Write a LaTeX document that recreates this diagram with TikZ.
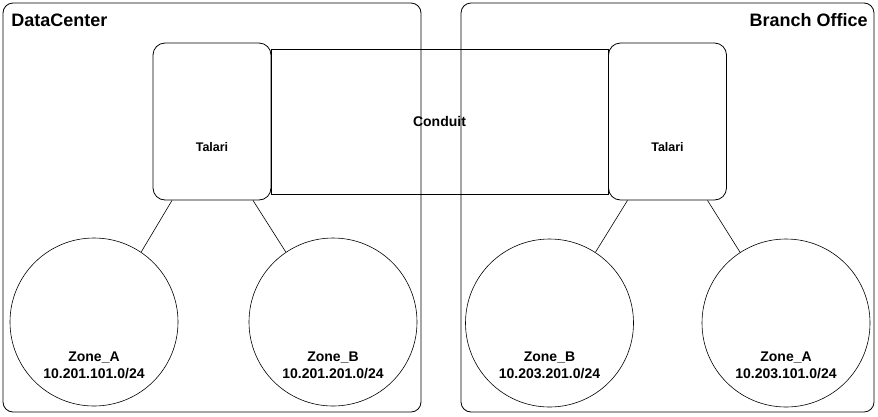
\documentclass[tikz,border=0pt]{standalone}
\usepackage{fontspec}
\setmainfont{Liberation Sans}
\usetikzlibrary{positioning}

\begin{document}
\begin{tikzpicture}[x=1pt,y=-1pt,line width=0.8pt,
    font=\bfseries\fontsize{14}{17}\selectfont]
    \tikzstyle{site}=[draw,rounded corners=10pt,inner sep=0pt]
    \tikzstyle{talari}=[draw,rounded corners=12pt,minimum width=118pt,minimum height=157pt]
    \tikzstyle{talaritext}=[inner sep=0pt,font=\bfseries\fontsize{12.5}{15}\selectfont]
    \tikzstyle{zone}=[draw,circle,line width=0.6pt,minimum size=168pt,inner sep=0pt]
    \tikzstyle{zonetext}=[align=center,inner sep=0pt]
    \tikzstyle{sitetext}=[inner sep=0pt,font=\bfseries\fontsize{18}{20}\selectfont]

    \useasboundingbox (0,0) rectangle (878,416);

    \node[site,minimum width=418pt,minimum height=409pt] (dc) at (212,207.5) {};
    \node[site,minimum width=413pt,minimum height=409pt] (bo) at (667.5,207.5) {};
    \node[sitetext,anchor=west] (dclabel) at (11,20) {DataCenter};
    \node[sitetext,anchor=east] (bolabel) at (868,20) {Branch Office};

    \node[draw,minimum width=337pt,minimum height=145pt,inner sep=0pt] (conduit) at (439.5,121.5) {Conduit};
    \node[talari] (t1) at (212,121.5) {};
    \node[talari] (t2) at (667.5,121.5) {};
    \node[talaritext] at ([yshift=-25.5pt]t1.center) {Talari};
    \node[talaritext] at ([yshift=-25.5pt]t2.center) {Talari};

    \node[zone] (za1) at (94,322) {};
    \node[zone] (zb1) at (333,322) {};
    \node[zone] (zb2) at (549.5,323) {};
    \node[zone] (za2) at (786,323) {};

    \node[zonetext] at ([yshift=-43.5pt]za1.center) {Zone\_A\\10.201.101.0/24};
    \node[zonetext] at ([yshift=-43.5pt]zb1.center) {Zone\_B\\10.201.201.0/24};
    \node[zonetext] at ([yshift=-42.5pt]zb2.center) {Zone\_B\\10.203.201.0/24};
    \node[zonetext] at ([yshift=-42.5pt]za2.center) {Zone\_A\\10.203.101.0/24};

    \draw[line width=0.6pt]
    ([xshift=-40pt]t1.south) -- (za1.56)
    ([xshift=41pt]t1.south) -- (zb1.124)
    ([xshift=-40pt]t2.south) -- (zb2.57)
    ([xshift=40pt]t2.south) -- (za2.123);

  \end{tikzpicture}
\end{document}
